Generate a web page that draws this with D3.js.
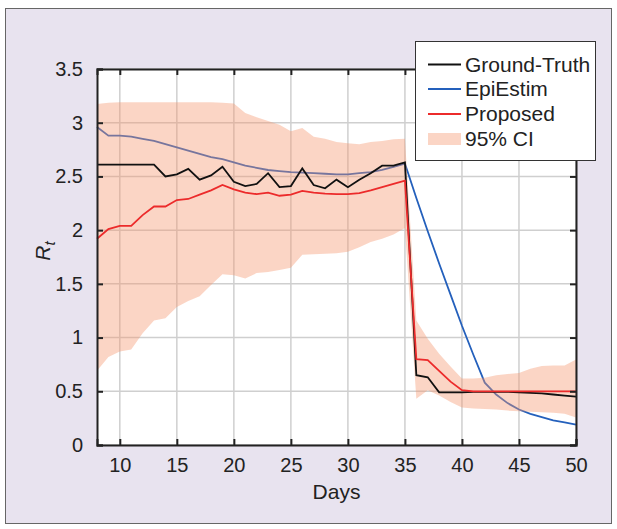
<!DOCTYPE html>
<html>
<head>
<meta charset="utf-8">
<script src="https://cdn.jsdelivr.net/npm/d3@7"></script>
<style>
  body { margin: 0; background: #fff; }
  text { font-family: "Liberation Sans", Arial, Helvetica, sans-serif; fill: #222; }
</style>
</head>
<body>
<svg id="chart" width="617" height="529"></svg>
<script>
// days 8..50
const days = [8, 9, 10, 11, 12, 13, 14, 15, 16, 17, 18, 19, 20, 21, 22, 23, 24, 25, 26, 27, 28, 29,
    30, 31, 32, 33, 34, 35, 36, 37, 38, 39, 40, 41, 42, 43, 44, 45, 46, 47, 48, 49, 50]

const groundTruth = [2.61, 2.61, 2.61, 2.61, 2.61, 2.61, 2.50, 2.52, 2.57, 2.47, 2.51, 2.59, 2.45, 2.41, 2.43,
    2.53, 2.40, 2.41, 2.575, 2.42, 2.39, 2.47, 2.40, 2.47, 2.53, 2.60, 2.60, 2.63,
    0.65, 0.63, 0.49, 0.49, 0.49, 0.495, 0.495, 0.495, 0.495, 0.49, 0.485, 0.48, 0.47, 0.46, 0.45]

const epiEstim = [2.96, 2.88, 2.88, 2.87, 2.85, 2.83, 2.80, 2.77, 2.74, 2.71, 2.68, 2.66, 2.63, 2.60, 2.58,
    2.56, 2.55, 2.54, 2.535, 2.53, 2.525, 2.52, 2.52, 2.53, 2.54, 2.56, 2.59, 2.62,
    2.30, 1.99, 1.69, 1.40, 1.11, 0.84, 0.58, 0.47, 0.39, 0.33, 0.29, 0.26, 0.23, 0.21, 0.19]

const proposed = [1.92, 2.01, 2.04, 2.04, 2.14, 2.22, 2.22, 2.28, 2.29, 2.33, 2.37, 2.42, 2.38, 2.35, 2.335,
    2.35, 2.32, 2.33, 2.365, 2.35, 2.34, 2.335, 2.335, 2.345, 2.37, 2.40, 2.43, 2.46,
    0.80, 0.79, 0.69, 0.59, 0.51, 0.50, 0.50, 0.50, 0.50, 0.50, 0.50, 0.50, 0.50, 0.50, 0.50]

const ciUpper = [3.175, 3.185, 3.19, 3.19, 3.19, 3.19, 3.19, 3.19, 3.19, 3.19, 3.19, 3.185, 3.18, 3.09, 3.05,
    3.015, 2.98, 2.92, 2.95, 2.87, 2.85, 2.82, 2.81, 2.80, 2.82, 2.83, 2.845, 2.85,
    1.16, 0.99, 0.85, 0.73, 0.62, 0.62, 0.625, 0.65, 0.66, 0.67, 0.71, 0.735, 0.74, 0.74, 0.795]

const ciLower = [0.69, 0.82, 0.87, 0.89, 1.04, 1.16, 1.18, 1.285, 1.34, 1.385, 1.49, 1.59, 1.58, 1.55, 1.60,
    1.61, 1.63, 1.65, 1.77, 1.775, 1.78, 1.785, 1.80, 1.84, 1.89, 1.92, 1.96, 2.02,
    0.43, 0.51, 0.46, 0.40, 0.35, 0.34, 0.335, 0.33, 0.32, 0.315, 0.31, 0.305, 0.30, 0.29, 0.255]

const xTicks = [10, 15, 20, 25, 30, 35, 40, 45, 50]
const yTicks = [0, 0.5, 1, 1.5, 2, 2.5, 3, 3.5]
const legendLabels = ["Ground-Truth", "EpiEstim", "Proposed", "95% CI"]

const colors = {
    truth: "#111111",
    epi: "#2460BC",
    proposed: "#EC2B2B",
    band: "rgb(245,150,110)"
}

const margin = { top: 69, left: 97, right: 41, bottom: 84 },
    width = 617 - margin.left - margin.right,
    height = 529 - margin.top - margin.bottom

const svg = d3.select("#chart")

// outer panel
svg.append("rect")
    .attr("x", 5.5).attr("y", 8.5)
    .attr("width", 606).attr("height", 515)
    .attr("fill", "#E8E3EF")
    .attr("stroke", "#666")
    .attr("stroke-width", 1)

const g = svg.append("g")
    .attr("transform", `translate(${margin.left},${margin.top})`)

const x = d3.scaleLinear().domain([8, 50]).range([0, width])
const y = d3.scaleLinear().domain([0, 3.5]).range([height, 0])

g.append("rect")
    .attr("width", width).attr("height", height)
    .attr("fill", "#fff")

// grid
g.append("g").selectAll("line")
    .data(xTicks)
    .enter().append("line")
    .attr("x1", d => x(d)).attr("x2", d => x(d))
    .attr("y1", 0).attr("y2", height)
    .attr("stroke", "#cfcfcf").attr("stroke-width", 1.5)

g.append("g").selectAll("line")
    .data(yTicks)
    .enter().append("line")
    .attr("x1", 0).attr("x2", width)
    .attr("y1", d => y(d)).attr("y2", d => y(d))
    .attr("stroke", "#cfcfcf").attr("stroke-width", 1.5)

const line = (vals) => d3.line()
    .x((d, i) => x(days[i]))
    .y(d => y(d))(vals)

// EpiEstim sits under the band
g.append("path")
    .attr("d", line(epiEstim))
    .attr("fill", "none")
    .attr("stroke", colors.epi)
    .attr("stroke-width", 1.8)

const area = d3.area()
    .x((d, i) => x(days[i]))
    .y0((d, i) => y(ciLower[i]))
    .y1(d => y(d))

g.append("path")
    .attr("d", area(ciUpper))
    .attr("fill", colors.band)
    .attr("fill-opacity", 0.4)

g.append("path")
    .attr("d", line(groundTruth))
    .attr("fill", "none")
    .attr("stroke", colors.truth)
    .attr("stroke-width", 1.8)

g.append("path")
    .attr("d", line(proposed))
    .attr("fill", "none")
    .attr("stroke", colors.proposed)
    .attr("stroke-width", 1.8)

// axes, ticks inward on all four sides
const fmt = d => d.toString()

g.append("g")
    .attr("transform", `translate(0,${height})`)
    .call(d3.axisBottom(x).tickValues(xTicks).tickSize(-6).tickPadding(13).tickFormat(fmt))

g.append("g")
    .call(d3.axisLeft(y).tickValues(yTicks).tickSize(-6).tickPadding(14).tickFormat(fmt))

g.append("g")
    .call(d3.axisTop(x).tickValues(xTicks).tickSize(-6).tickFormat(""))

g.append("g")
    .attr("transform", `translate(${width},0)`)
    .call(d3.axisRight(y).tickValues(yTicks).tickSize(-6).tickFormat(""))

g.selectAll(".domain").attr("stroke", "#222").attr("stroke-width", 2)
g.selectAll(".tick line").attr("stroke", "#222").attr("stroke-width", 2)
g.selectAll(".tick text")
    .style("font-size", "20px")
    .style("font-family", "'Liberation Sans', Arial, sans-serif")
    .attr("fill", "#222")

// axis labels
svg.append("text")
    .attr("x", margin.left + width / 2)
    .attr("y", 499)
    .attr("text-anchor", "middle")
    .style("font-size", "21px")
    .text("Days")

const rLabel = svg.append("text")
    .attr("transform", "translate(50,251) rotate(-90)")
    .attr("text-anchor", "middle")
    .style("font-size", "21px")
    .style("font-style", "italic")
rLabel.append("tspan").text("R")
rLabel.append("tspan").attr("dy", 5).style("font-size", "15px").text("t")

// legend
const legend = svg.append("g")

legend.append("rect")
    .attr("x", 415.5).attr("y", 41.5)
    .attr("width", 180).attr("height", 119)
    .attr("fill", "#fff")
    .attr("stroke", "#333").attr("stroke-width", 1)

const legendColors = [colors.truth, colors.epi, colors.proposed]
const rowY = [64.5, 89, 114, 139]

legend.selectAll(".leg-line")
    .data(legendColors)
    .enter().append("line")
    .attr("x1", 428).attr("x2", 461)
    .attr("y1", (d, i) => rowY[i]).attr("y2", (d, i) => rowY[i])
    .attr("stroke", d => d)
    .attr("stroke-width", 2)

legend.append("rect")
    .attr("x", 428).attr("y", rowY[3] - 6)
    .attr("width", 33).attr("height", 12)
    .attr("fill", colors.band)
    .attr("fill-opacity", 0.4)

legend.selectAll(".leg-text")
    .data(legendLabels)
    .enter().append("text")
    .attr("x", 465)
    .attr("y", (d, i) => rowY[i] + 7)
    .style("font-size", "21px")
    .text(d => d)
</script>
</body>
</html>
